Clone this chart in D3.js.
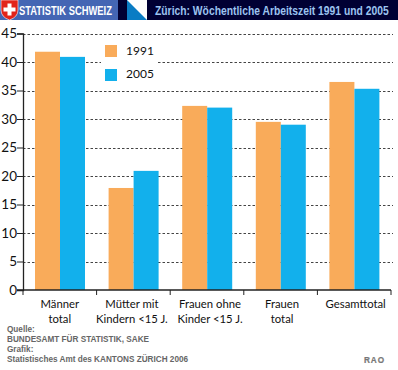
<!DOCTYPE html>
<html><head><meta charset="utf-8">
<script src="https://cdn.jsdelivr.net/npm/d3@7"></script>
<style>html,body{margin:0;padding:0;background:#fff}svg{display:block}</style>
</head><body><svg id="c" width="398" height="370"></svg>
<script>
const categories = ["Männer|total","Mütter mit|Kindern <15 J.","Frauen ohne|Kinder <15 J.","Frauen|total","Gesamttotal"];
const years = ["1991","2005"];
const values1991 = [41.8,17.9,32.3,29.5,36.5];
const values2005 = [40.9,20.9,32.0,29.0,35.3];
const yTicks = [0,5,10,15,20,25,30,35,40,45];
const colors = ["#F9AB5A","#12B0EC"];
const sourceLines = ["Quelle:","BUNDESAMT FÜR STATISTIK, SAKE","Grafik:","Statistisches Amt des KANTONS ZÜRICH 2006"];
const labelNudge = [0,-1.5,3,1.5,1.5];

const svg = d3.select("#c");
const sans = "Lato,'Open Sans',sans-serif";
const arial = "'Liberation Sans',Arial,sans-serif";

// condensed header text: squeeze real text horizontally to the wanted width
function squeezed(str,left,base,size,width,fill){
  const t = svg.append("text").attr("font-family",arial).attr("font-weight","bold")
    .attr("font-size",size).attr("fill",fill).text(str);
  const k = width / t.node().getComputedTextLength();
  t.attr("transform",`translate(${left},${base}) scale(${k},1)`);
}

// header
svg.append("rect").attr("width",398).attr("height",20).attr("fill","#000033");
svg.append("rect").attr("width",118).attr("height",20).attr("fill","#4466B4");
svg.append("path").attr("d","M1,0H18V10Q18,17 9.5,20Q1,17 1,10Z").attr("fill","#E2231A").attr("stroke","#fff").attr("stroke-width",.6);
svg.append("rect").attr("x",7.5).attr("y",3.5).attr("width",4).attr("height",12).attr("fill","#fff");
svg.append("rect").attr("x",3.5).attr("y",7.5).attr("width",12).attr("height",4).attr("fill","#fff");
squeezed("STATISTIK SCHWEIZ",19,15,12.5,93,"#fff");
svg.append("rect").attr("x",127).attr("width",20).attr("height",20).attr("fill","#fff");
svg.append("path").attr("d","M127,0L147,20H127Z").attr("fill","#0A7CC4");
squeezed("Zürich: Wöchentliche Arbeitszeit 1991 und 2005",155,15,12.5,234,"#9CC4F0");

// scales
const x = d3.scaleBand().domain(categories).range([23,391]).padding(0);
const y = d3.scaleLinear().domain([0,45]).range([290,33.5]);
const inner = d3.scaleBand().domain(years).range([12,62]).padding(0);

// grid
const grid = svg.append("g");
grid.selectAll("line").data(yTicks.filter(d=>d>0)).join("line")
  .attr("x1",23).attr("x2",393).attr("y1",d=>Math.round(y(d))+.5).attr("y2",d=>Math.round(y(d))+.5)
  .attr("stroke","#444").attr("stroke-width",1).attr("stroke-dasharray","2.5 2");

// bars
const groups = svg.selectAll("g.cat").data(categories).join("g").attr("class","cat")
  .attr("transform",d=>`translate(${x(d)},0)`);
[values1991,values2005].forEach((vals,s)=>{
  groups.append("rect")
    .attr("x",inner(years[s])).attr("width",inner.bandwidth())
    .attr("y",(d,i)=>y(vals[i])).attr("height",(d,i)=>290-y(vals[i]))
    .attr("fill",colors[s]);
});

// legend
const leg = svg.append("g");
years.forEach((yr,i)=>{
  leg.append("rect").attr("x",105).attr("y",45+i*24).attr("width",12).attr("height",12).attr("fill",colors[i]);
  leg.append("text").attr("x",126).attr("y",55+i*22.8).attr("font-family",sans).attr("font-size",12).attr("fill","#111").text(yr);
});
grid.append("rect").attr("x",101).attr("y",40).attr("width",56).attr("height",45).attr("fill","#fff");

// axes
const yAxis = d3.axisLeft(y).tickValues(yTicks).tickSize(6).tickPadding(2);
const ga = svg.append("g").attr("transform","translate(23,0)").call(yAxis);
ga.selectAll("text").attr("font-family",sans).attr("font-size",13.5).attr("fill","#111").attr("x",-6);
ga.selectAll("line,path").attr("stroke","#222").attr("stroke-width",1);
ga.select("path").attr("stroke-width",1.3);
const xa = svg.append("g");
xa.append("line").attr("x1",17).attr("x2",391).attr("y1",290).attr("y2",290).attr("stroke","#222").attr("stroke-width",1.3);
xa.selectAll("line.t").data(d3.range(categories.length+1)).join("line").attr("class","t")
  .attr("x1",i=>23+i*x.bandwidth()).attr("x2",i=>23+i*x.bandwidth())
  .attr("y1",290).attr("y2",295).attr("stroke","#222");
categories.forEach((c,k)=>{
  c.split("|").forEach((t,i)=>{
    svg.append("text").attr("x",x(c)+x.bandwidth()/2+labelNudge[k]).attr("y",308+i*15)
      .attr("text-anchor","middle").attr("font-family",sans).attr("font-size",11.3).attr("fill","#111").text(t);
  });
});

// source
sourceLines.forEach((t,i)=>{
  svg.append("text").attr("x",7).attr("y",332+i*9.9).attr("font-family",arial).attr("font-weight","bold")
    .attr("font-size",8.2).attr("fill","#666").text(t);
});
svg.append("text").attr("x",364).attr("y",362.5).attr("font-family",arial).attr("font-weight","bold")
  .attr("font-size",8.2).attr("letter-spacing",.9).attr("fill","#777").attr("stroke","#777").attr("stroke-width",.2).text("RAO");
</script></body></html>
